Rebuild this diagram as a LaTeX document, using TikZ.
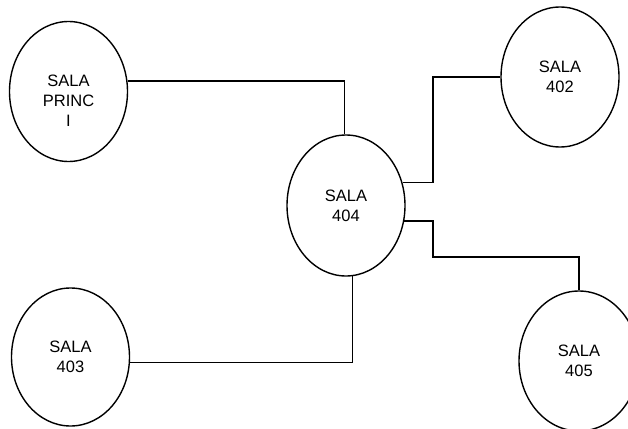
\documentclass[tikz,border=0pt]{standalone}
\usepackage{fontspec}
\setmainfont{Liberation Sans}
\usetikzlibrary{shapes.geometric}
\begin{document}
\begin{tikzpicture}[x=1pt,y=-1pt,
  room/.style={draw,ellipse,line width=1.4pt,inner sep=0pt,minimum width=118pt,minimum height=140pt,
    align=center,font=\fontsize{16.5}{20}\selectfont},
  txt/.style={align=center,inner sep=0pt,font=\fontsize{16.5}{20}\selectfont},
  link/.style={line width=1.4pt}]
\useasboundingbox (0,0) rectangle (628,428);
\node[room] (princ) at (68.5,91.5) {};
\node[txt] (princt) at (68.5,101) {SALA\\PRINC\\I};
\node[room,minimum height=141pt] (n404) at (346,205.5) {SALA\\404};
\node[room] (n402) at (560,77) {SALA\\402};
\node[room,minimum height=138pt] (n403) at (70.5,357) {SALA\\403};
\node[room,minimum width=120pt] (n405) at (579,361) {SALA\\405};
\coordinate (b1) at (433,0);
\coordinate (b2) at (433,257);
\draw[link] (princ.10) -| (n404.91);
\draw[link] (n404.22) -| (b1 |- n402.west) -- (n402.west);
\draw[link] (n404.-15) -| (b2) -| (n405.north);
\draw[link] (n403.-5) -| (n404.-85);
\end{tikzpicture}
\end{document}
